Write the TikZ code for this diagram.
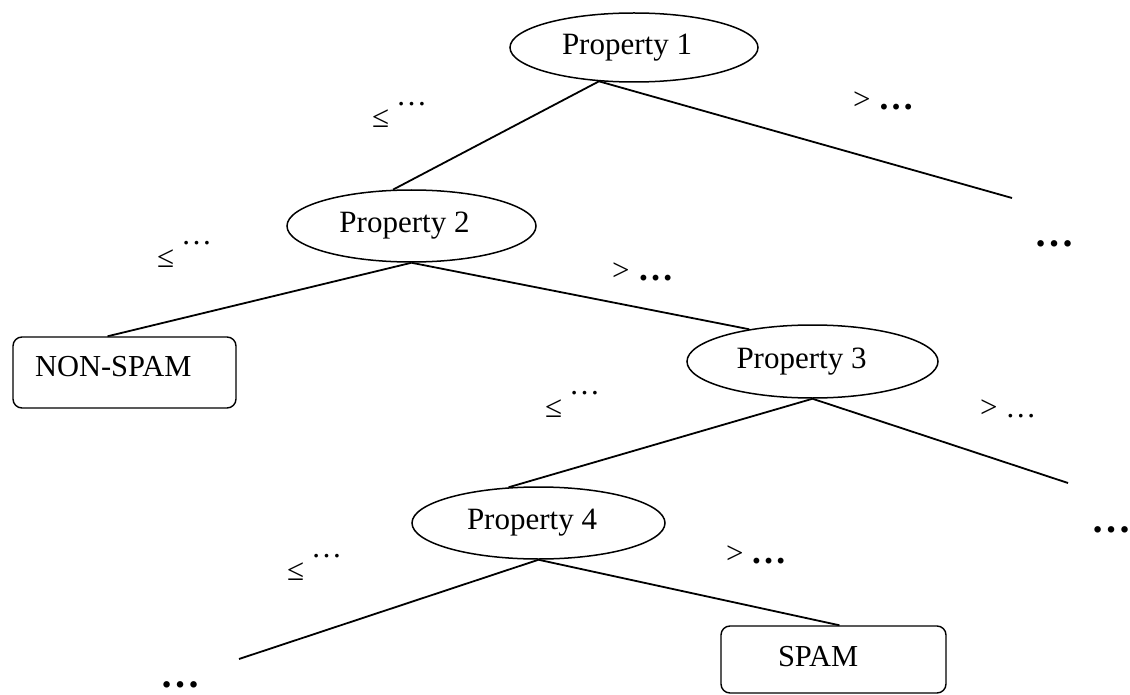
\documentclass[tikz,border=0pt]{standalone}
\usepackage{fontspec}
\setmainfont{Liberation Serif}
\usetikzlibrary{shapes.geometric}

\begin{document}
\begin{tikzpicture}[x=1pt,y=-1pt,
  prop/.style={ellipse, draw, line width=1.5pt, inner sep=0pt,
    font=\fontsize{31}{36}\selectfont},
  leaf/.style={draw, line width=1.4pt, rounded corners=9pt, align=left,
    text height=20pt, font=\fontsize{30.5}{36}\selectfont},
  branch/.style={line width=1.8pt},
  cond/.style={anchor=base west, inner sep=0pt, font=\fontsize{31}{36}\selectfont},
  more/.style={anchor=center, inner sep=0pt, font=\fontsize{40}{40}\selectfont\bfseries}
]
\useasboundingbox (0,0) rectangle (1130,695);

% decision nodes
\node[prop, minimum width=248pt, minimum height=69pt] (p1) at (634,47.5) {Property 1\kern14pt};
\node[prop, minimum width=249pt, minimum height=72pt] (p2) at (411.5,226) {Property 2\kern14pt};
\node[prop, minimum width=251pt, minimum height=73pt] (p3) at (812.5,361.5) {Property 3\kern22pt};
\node[prop, minimum width=253pt, minimum height=72pt] (p4) at (538.5,523) {Property 4\kern13pt};

% leaves
\node[leaf, text width=179pt, inner xsep=22pt, minimum height=71pt, text depth=12pt]
  (ns) at (124.5,372.5) {NON-SPAM};
\node[leaf, text width=111pt, inner xsep=57pt, minimum height=67pt, text depth=7pt]
  (spam) at (833.5,659.5) {SPAM};

% open branch ends
\coordinate (r1) at (1012,198);
\coordinate (r3) at (1068,483);
\coordinate (l4) at (239,659);

% branches
\draw[branch] (p1.224) -- (p2.117);
\draw[branch] (p1.224) -- (r1);
\draw[branch] (p2.south) -- ([xshift=-17pt]ns.north);
\draw[branch] (p2.south) -- (p3.153);
\draw[branch] (p3.south) -- (p4.130);
\draw[branch] (p3.south) -- (r3);
\draw[branch] (p4.south) -- (l4);
\draw[branch] (p4.south) -- ([xshift=6pt]spam.north);

% branch conditions
\node[cond] (c1l) at (372,128) {≤\kern7pt\raisebox{22.5pt}{…}};
\node[cond] (c1r) at (853,110) {>\kern7.5pt{\fontsize{36}{36}\selectfont\bfseries …}};
\node[cond] (c2l) at (157,267) {≤\kern7pt\raisebox{22.5pt}{…}};
\node[cond] (c2r) at (612,280) {>\kern8pt{\fontsize{36}{36}\selectfont\bfseries …}};
\node[cond] (c3l) at (545,417) {≤\kern7pt\raisebox{22.5pt}{…}};
\node[cond] (c3r) at (980,417) {> …};
\node[cond] (c4l) at (287,580) {≤\kern7pt\raisebox{22.5pt}{…}};
\node[cond] (c4r) at (726,563) {>\kern7pt{\fontsize{36}{36}\selectfont\bfseries …}};

% continuation marks
\node[more] (m1) at (1054.5,244) {…};
\node[more] (m2) at (1111,530) {…};
\node[more] (m3) at (180.5,685) {…};
\end{tikzpicture}
\end{document}
